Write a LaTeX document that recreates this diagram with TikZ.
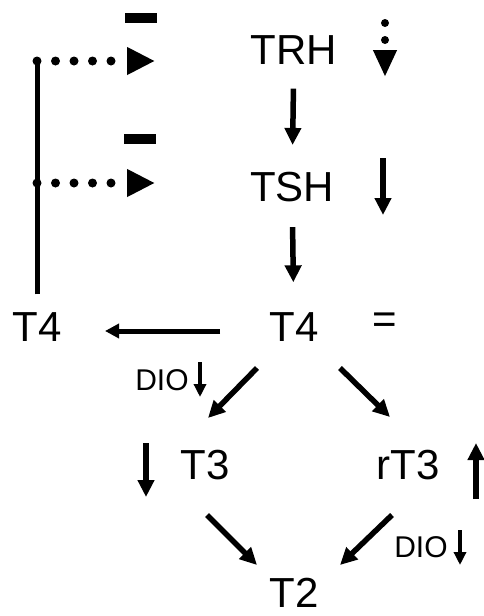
\documentclass[tikz,border=0pt]{standalone}
\usepackage{fontspec}
\setmainfont{Liberation Sans}
\usetikzlibrary{arrows.meta}
\begin{document}
\begin{tikzpicture}[x=1pt,y=-1pt]
		\tikzset{lab/.style = {inner sep=0pt, font=\fontsize{42}{42}\selectfont},
			dio/.style = {inner sep=0pt, font=\fontsize{30}{30}\selectfont},
			minus/.style = {fill=black, inner sep=0pt, minimum width=32pt, minimum height=10pt},
			arr/.style = {line width=5.5pt, -{Triangle[length=17pt,width=16pt]}},
			dotarr/.style = {line width=9pt, line cap=round, dash pattern=on 0pt off 18.5pt, -{Triangle[length=28pt,width=26pt]}}}

		\useasboundingbox (0,0) rectangle (483,616);

		\node[lab] (TRH) at (294,50) {TRH};
		\node[lab] (TSH) at (292,187) {TSH};
		\node[lab] (T4) at (294,327) {T4};
		\node[lab] (T4l) at (37,327) {T4};
		\node[lab] (eq) at (385,323) {=};
		\node[lab] (T3) at (205,465) {T3};
		\node[lab] (rT3) at (408,465) {rT3};
		\node[lab] (T2) at (294,593) {T2};

		\node[dio] (dioA) at (162,380) {DIO};
		\node[dio] (dioB) at (421,547) {DIO};

		\node[minus] (minA) at (141,18) {};
		\node[minus] (minB) at (140,139) {};

		\coordinate (fbA) at (37,61);
		\coordinate (fbB) at (37,183);
		\coordinate (tipA) at (155,61);
		\coordinate (tipB) at (155,183);

		\coordinate (trhS) at (385,23);
		\coordinate (trhE) at (385,77);
		\coordinate (tshS) at (383,158);
		\coordinate (tshE) at (383,215);
		\coordinate (t3S) at (146,443);
		\coordinate (t3E) at (146,497);
		\coordinate (rt3S) at (476,499);
		\coordinate (rt3E) at (476,443);
		\coordinate (dioAS) at (200,362);
		\coordinate (dioAE) at (200,397);
		\coordinate (dioBS) at (460,530);
		\coordinate (dioBE) at (460,565);

		% feedback
		\draw[line width=5pt, shorten <=18pt] (T4l.north) -- (fbA);
		\draw[dotarr] (fbA) -- (tipA);
		\draw[dotarr] (fbB) -- (tipB);

		% axis
		\draw[arr, shorten <=24pt, shorten >=27pt] (TRH) -- (TSH);
		\draw[arr, shorten <=25pt, shorten >=30pt] (TSH) -- (T4);
		\draw[line width=5pt, -{Triangle[length=14pt,width=14pt]}, shorten <=74pt, shorten >=68pt] ([yshift=-4pt]T4.center) -- ([yshift=-4pt]T4l.center);

		\draw[arr] ([shift={(-37,41)}]T4.center) -- ([shift={(3,-47)}]T3.center);
		\draw[arr] ([shift={(46,41)}]T4.center) -- ([shift={(-18,-48)}]rT3.center);
		\draw[arr] ([shift={(2,50)}]T3.center) -- ([shift={(-37,-28)}]T2.center);
		\draw[arr] ([shift={(-16,50)}]rT3.center) -- ([shift={(46,-28)}]T2.center);

		% up / down
		\draw[line width=8pt, line cap=round, dash pattern=on 0pt off 17pt, -{Triangle[length=27pt,width=22pt]}] (trhS) -- (trhE);
		\draw[arr] (tshS) -- (tshE);
		\draw[arr] (t3S) -- (t3E);
		\draw[arr] (rt3S) -- (rt3E);
		\draw[line width=4.5pt, -{Triangle[length=13pt,width=12pt]}] (dioAS) -- (dioAE);
		\draw[line width=4.5pt, -{Triangle[length=13pt,width=12pt]}] (dioBS) -- (dioBE);

	\end{tikzpicture}
\end{document}
